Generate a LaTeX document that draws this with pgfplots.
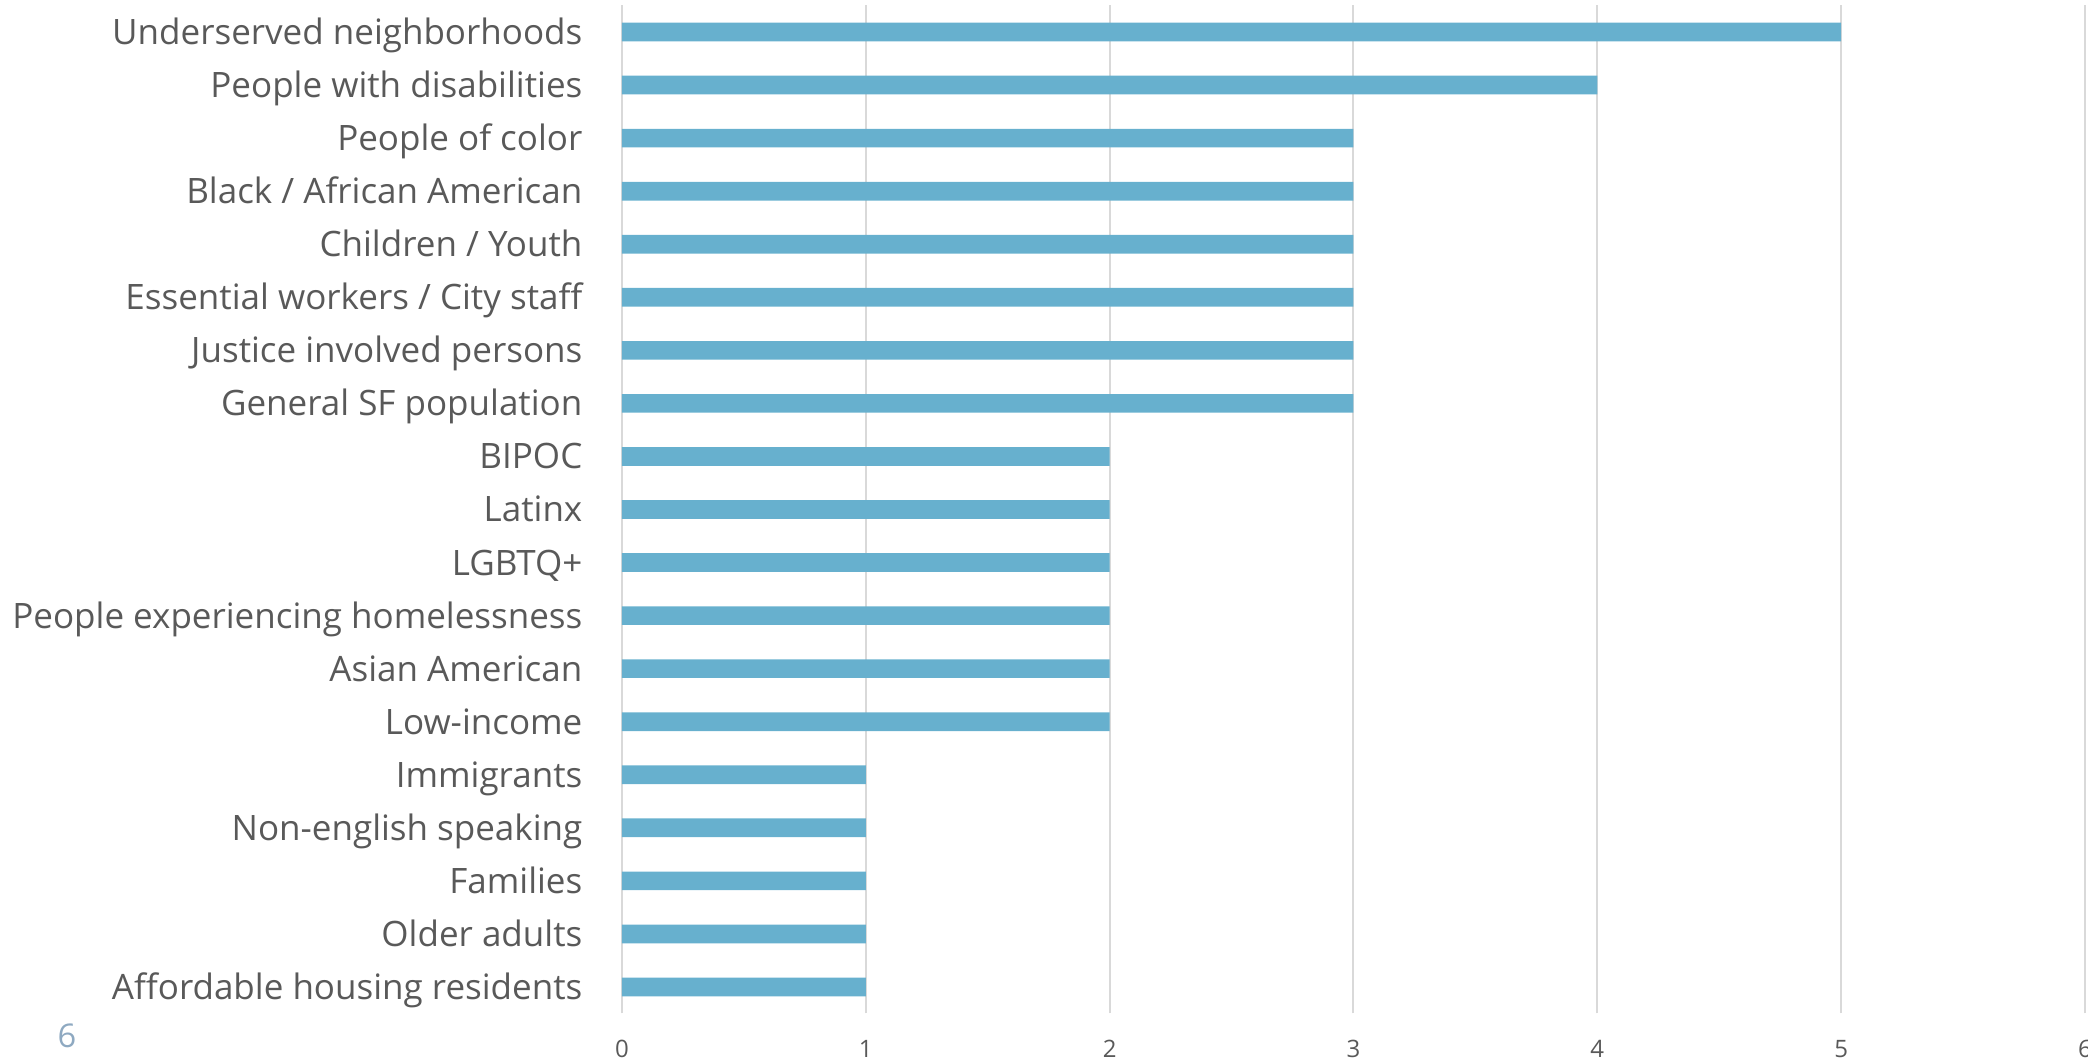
\documentclass[border=0pt]{standalone}
\usepackage{fontspec}
\setmainfont{Open Sans}
\usepackage{pgfplots}
\pgfplotsset{compat=1.18}
\definecolor{barc}{HTML}{67B0CE}
\definecolor{txt}{HTML}{595959}
\definecolor{gridc}{HTML}{D9D9D9}
\definecolor{pg}{HTML}{8EA9C1}
\begin{document}
\begin{tikzpicture}
\begin{axis}[
 width=438.9pt, height=302.4pt, scale only axis,
 xmin=0, xmax=6, ymin=-0.5, ymax=18.5,
 xbar, bar width=5.6pt,
 axis line style={draw=none},
 xtick={0,...,6}, xmajorgrids, grid style={gridc, line width=0.6pt},
 major tick length=0pt,
 ytick={0,...,18},
 yticklabels={Affordable housing residents, Older adults, Families, Non-english speaking, Immigrants, Low-income, Asian American, People experiencing homelessness, LGBTQ+, Latinx, BIPOC, General SF population, Justice involved persons, Essential workers / City staff, Children / Youth, Black / African American, People of color, People with disabilities, Underserved neighborhoods},
 yticklabel style={font=\fontsize{10.5}{12}\selectfont, text=txt, inner sep=0pt, xshift=-11.7pt, yshift=-1.1pt, text height=0.75em, text depth=0.22em},
 xticklabel style={font=\fontsize{7.2}{9}\selectfont, text=txt, inner sep=0pt, yshift=-7.8pt},
 /pgf/number format/assume math mode=true,
 clip=false,
]
\addplot[fill=barc, draw=none] coordinates {
(1,0) (1,1) (1,2) (1,3) (1,4) (2,5) (2,6) (2,7) (2,8) (2,9) (2,10) (3,11) (3,12) (3,13) (3,14) (3,15) (3,16) (4,17) (5,18)};
\coordinate (bl) at (rel axis cs:0,0);
\end{axis}
\pgfresetboundingbox
\path[use as bounding box] ([shift={(-186.6pt,-14.55pt)}]bl) rectangle ([shift={(439.8pt,304.05pt)}]bl);
\node[text=pg, font=\fontsize{9.8}{11}\selectfont] at ([shift={(-166.5pt,-6.6pt)}]bl) {6};
\end{tikzpicture}
\end{document}
